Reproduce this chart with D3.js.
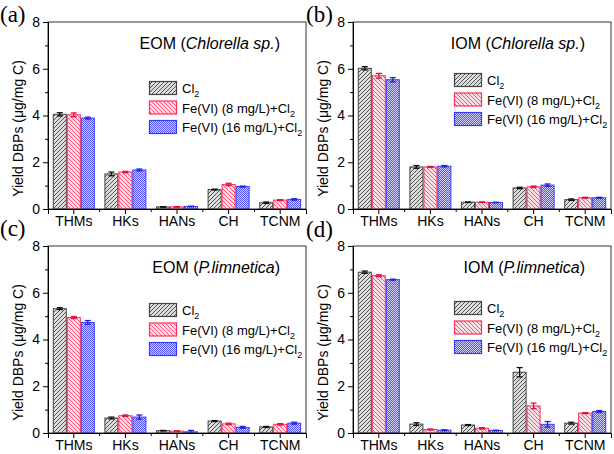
<!DOCTYPE html>
<html><head><meta charset="utf-8">
<script src="https://cdn.jsdelivr.net/npm/d3@7"></script>
<style>
body{margin:0;background:#fff}
text{font-family:Arial,"Liberation Sans",sans-serif;fill:#000}
</style></head><body>
<svg id="c" width="614" height="454"></svg>
<script>
const categories = ["THMs","HKs","HANs","CH","TCNM"];
const seriesLabels = ["Cl","Fe(VI) (8 mg/L)+Cl","Fe(VI) (16 mg/L)+Cl"];
const yTicks = [0,2,4,6,8];
const panelLetters = ["(a)","(b)","(c)","(d)"];
const panelTitles = [["EOM (","Chlorella sp.",")"],["IOM (","Chlorella sp.",")"],["EOM (","P.limnetica",")"],["IOM (","P.limnetica",")"]];

const aVals = [[4.05,1.50,0.09,0.83,0.27],[4.03,1.58,0.09,1.05,0.38],[3.89,1.67,0.11,0.96,0.41]];
const aErr  = [[0.07,0.08,0.01,0.02,0.03],[0.08,0.03,0.01,0.05,0.02],[0.04,0.04,0.01,0.02,0.03]];
const bVals = [[6.02,1.80,0.29,0.90,0.40],[5.70,1.80,0.29,0.95,0.48],[5.53,1.83,0.28,1.02,0.48]];
const bErr  = [[0.07,0.06,0.01,0.03,0.03],[0.10,0.02,0.01,0.03,0.02],[0.09,0.03,0.01,0.05,0.02]];
const cVals = [[5.32,0.64,0.10,0.51,0.26],[4.94,0.74,0.08,0.39,0.37],[4.73,0.68,0.05,0.24,0.42]];
const cErr  = [[0.04,0.04,0.01,0.02,0.02],[0.04,0.03,0.01,0.03,0.03],[0.08,0.09,0.06,0.04,0.04]];
const dVals = [[6.88,0.38,0.34,2.60,0.42],[6.73,0.15,0.20,1.16,0.85],[6.56,0.12,0.11,0.37,0.92]];
const dErr  = [[0.05,0.06,0.02,0.20,0.04],[0.04,0.02,0.03,0.12,0.02],[0.02,0.02,0.01,0.12,0.04]];

const panelVals = [aVals,bVals,cVals,dVals];
const panelErr = [aErr,bErr,cErr,dErr];

const svg = d3.select("#c");
const defs = svg.append("defs");
function pat(id,bg,paths,stroke,w,sw){
  const p = defs.append("pattern").attr("id",id).attr("patternUnits","userSpaceOnUse").attr("width",w).attr("height",w);
  p.append("rect").attr("width",w).attr("height",w).attr("fill",bg);
  p.append("path").attr("d",paths).attr("stroke",stroke).attr("stroke-width",sw).attr("fill","none");
}
pat("p0","#dedede","M-1,1 l2,-2 M0,4 l4,-4 M3,5 l2,-2","#505050",4,1);
pat("p1","#ffe0e7","M-1,3 l2,2 M0,0 l4,4 M3,-1 l2,2","#ff5078",4,1);
pat("p2","#d4d4ff","M0,0.5 h1 M1,1.5 h1","#5050ff",2,1);
const fills = ["url(#p0)","url(#p1)","url(#p2)"];
const strokes = ["#444","#ff2d5a","#3a3aff"];
const errCol = ["#111","#e0103a","#2020e0"];

const W = 258, H = 187;
const layout = [
  {x:48,y:22,lx:0,ly:22,legY:66},
  {x:353,y:22,lx:306,ly:22,legY:58},
  {x:48,y:246,lx:0,ly:236,legY:64},
  {x:353,y:246,lx:306,ly:237,legY:62}
];

layout.forEach((L,pi)=>{
  const g = svg.append("g").attr("transform",`translate(${L.x},${L.y})`);
  const x = d3.scaleBand().domain(categories).range([0,W]).padding(0);
  const y = d3.scaleLinear().domain([0,8]).range([H,0]);
  const bw = 14;
  const x1 = d3.scaleBand().domain([0,1,2]).range([0,bw*3]);
  const vals = panelVals[pi], errs = panelErr[pi];
  vals.forEach((s,si)=>{
    const gg = g.append("g");
    s.forEach((v,ci)=>{
      const bx = x(categories[ci]) + x.bandwidth()/2 - bw*1.5 + x1(si);
      gg.append("rect").attr("x",bx+0.5).attr("y",y(v)).attr("width",bw-1).attr("height",H-y(v))
        .attr("fill",fills[si]).attr("stroke",strokes[si]).attr("stroke-width",1);
      const e = errs[si][ci];
      const cx = bx + bw/2;
      const ep = gg.append("g").attr("stroke",errCol[si]).attr("stroke-width",1.3);
      ep.append("line").attr("x1",cx).attr("x2",cx).attr("y1",y(v+e)).attr("y2",y(v-e));
      ep.append("line").attr("x1",cx-3).attr("x2",cx+3).attr("y1",y(v+e)).attr("y2",y(v+e));
      ep.append("line").attr("x1",cx-3).attr("x2",cx+3).attr("y1",y(v-e)).attr("y2",y(v-e));
    });
  });
  g.append("rect").attr("x",0).attr("y",0).attr("width",W).attr("height",H).attr("fill","none").attr("stroke","#333").attr("stroke-width",1);
  const ya = g.append("g").call(d3.axisLeft(y).tickValues(yTicks).tickSize(5).tickPadding(3).tickFormat(d3.format("d")));
  ya.select(".domain").attr("stroke","#000");
  ya.selectAll("text").style("font-size","14px");
  const yam = g.append("g").call(d3.axisLeft(y).tickValues([1,3,5,7]).tickSize(3).tickFormat(""));
  yam.select(".domain").remove();
  const xa = g.append("g").attr("transform",`translate(0,${H})`).call(d3.axisBottom(x).tickSize(5).tickPadding(2));
  xa.select(".domain").attr("stroke","#000");
  xa.selectAll("text").style("font-size","14px").attr("dy","0.72em");
  const bnd = categories.slice(1).map(c=>x(c));
  g.append("g").selectAll("line").data(bnd).join("line").attr("x1",d=>d).attr("x2",d=>d).attr("y1",H).attr("y2",H+3).attr("stroke","#000");
  g.append("text").attr("transform",`translate(${-25},${H/2+13}) rotate(-90)`).attr("text-anchor","middle")
    .style("font-size","14px").text("Yield DBPs (μg/mg C)");
  const t = panelTitles[pi];
  const tt = g.append("text").attr("x",232).attr("y",27).attr("text-anchor","end").style("font-size","16px");
  tt.append("tspan").text(t[0]);
  tt.append("tspan").attr("font-style","italic").text(t[1]);
  tt.append("tspan").text(t[2]);
  seriesLabels.forEach((lab,si)=>{
    const ly = L.legY + si*19.5;
    g.append("rect").attr("x",101.5).attr("y",ly-6.5).attr("width",27).attr("height",13)
      .attr("fill",fills[si]).attr("stroke",strokes[si]).attr("stroke-width",1.2);
    const tx = g.append("text").attr("x",134).attr("y",ly+5).style("font-size","13px");
    tx.append("tspan").text(lab);
    tx.append("tspan").attr("dy",4).style("font-size","9px").text("2");
  });
  svg.append("text").attr("x",L.lx).attr("y",L.ly)
    .style("font-family","'Liberation Serif','Times New Roman',serif").style("font-size","23px").text(panelLetters[pi]);
});
</script>
</body></html>
